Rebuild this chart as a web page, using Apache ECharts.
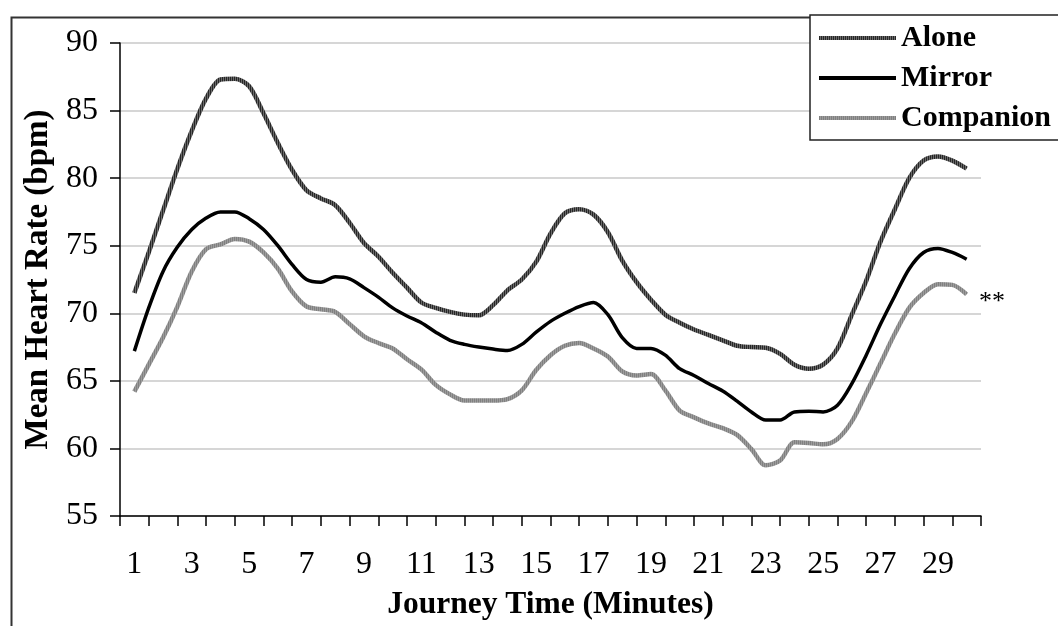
<!DOCTYPE html>
<html>
<head>
<meta charset="utf-8">
<script src="https://cdn.jsdelivr.net/npm/echarts@6/dist/echarts.min.js"></script>
<style>
  html, body { margin: 0; padding: 0; background: #fff; }
  #chart { width: 1058px; height: 626px; }
</style>
</head>
<body>
<div id="chart"></div>
<script>
// Category tick labels (minutes)
const categories = ['1','2','3','4','5','6','7','8','9','10','11','12','13','14','15',
  '16','17','18','19','20','21','22','23','24','25','26','27','28','29','30'];

// Sample times (minutes) at which the curves were read
const minutes = [1,1.5,2,2.5,3,3.5,4,4.5,5,5.5,6,6.5,7,7.5,8,8.5,9,9.5,10,10.5,
  11,11.5,12,12.5,13,13.5,14,14.5,15,15.5,16,16.5,17,17.5,18,18.5,19,19.5,20,20.5,
  21,21.5,22,22.5,23,23.5,24,24.5,25,25.5,26,26.5,27,27.5,28,28.5,29,29.5,30];

const alone = [71.5,74.5,77.6,80.7,83.5,85.9,87.3,87.35,86.8,84.8,82.6,80.6,79.1,78.5,78.0,76.7,
  75.2,74.2,73.0,71.9,70.8,70.4,70.1,69.9,69.85,70.6,71.7,72.5,73.8,75.9,77.4,77.7,77.3,76.0,
  73.9,72.3,71.0,69.9,69.3,68.8,68.4,68.0,67.6,67.5,67.45,67.0,66.2,65.9,66.2,67.4,69.9,72.4,
  75.3,77.7,80.0,81.3,81.6,81.3,80.7];

const mirror = [67.2,70.4,73.1,74.9,76.2,77.05,77.5,77.5,77.0,76.2,75.0,73.6,72.5,72.3,72.7,72.55,
  71.9,71.2,70.4,69.8,69.3,68.6,68.0,67.7,67.5,67.35,67.25,67.7,68.6,69.4,70.0,70.5,70.8,69.9,
  68.2,67.4,67.4,66.9,65.9,65.4,64.8,64.25,63.5,62.7,62.1,62.1,62.7,62.75,62.7,63.2,64.8,66.9,
  69.2,71.3,73.3,74.5,74.8,74.5,74.0];

const companion = [64.2,66.2,68.2,70.5,73.1,74.75,75.1,75.5,75.3,74.5,73.3,71.6,70.5,70.3,70.1,69.2,
  68.3,67.8,67.4,66.6,65.85,64.7,64.0,63.55,63.55,63.55,63.65,64.3,65.8,66.9,67.6,67.8,67.4,66.8,
  65.7,65.4,65.5,64.3,62.8,62.3,61.85,61.5,61.0,59.95,58.75,59.1,60.45,60.4,60.3,60.7,62.0,64.1,
  66.3,68.5,70.4,71.5,72.15,72.1,71.4];

const seriesNames = ['Alone', 'Mirror', 'Companion'];
const annotation = '**';

const FONT = "'Liberation Serif', 'Times New Roman', serif";

function pairs(vals) { return minutes.map((m, i) => [m, vals[i]]); }

// Vertical-stripe texture used by the original's hatched lines
function stripes(c1, c2) {
  const cv = document.createElement('canvas');
  cv.width = 2; cv.height = 2;
  const ctx = cv.getContext('2d');
  ctx.fillStyle = c1; ctx.fillRect(0, 0, 1, 2);
  ctx.fillStyle = c2; ctx.fillRect(1, 0, 1, 2);
  return { image: cv, repeat: 'repeat' };
}
const aloneTex = stripes('#262626', '#6a6a6a');
const compTex = stripes('#808080', '#9c9c9c');

const chart = echarts.init(document.getElementById('chart'), null, { renderer: 'canvas' });

chart.setOption({
  animation: false,
  backgroundColor: '#fff',
  grid: { left: 120, right: 77, top: 43, bottom: 106 },
  legend: {
    orient: 'vertical',
    left: 810,
    top: 15,
    padding: [8, 120, 7, 9],
    itemGap: 10,
    itemWidth: 77,
    itemHeight: 4,
    icon: 'rect',
    borderColor: '#222',
    borderWidth: 1.5,
    backgroundColor: '#fff',
    textStyle: { fontFamily: FONT, fontSize: 30, fontWeight: 'bold', color: '#000', lineHeight: 30 },
    data: [
      { name: seriesNames[0], itemStyle: { color: aloneTex } },
      { name: seriesNames[1], itemStyle: { color: '#000' } },
      { name: seriesNames[2], itemStyle: { color: compTex } }
    ]
  },
  xAxis: [
    {
      type: 'category',
      data: categories,
      boundaryGap: true,
      axisLine: { lineStyle: { color: '#000', width: 1.5 } },
      axisTick: { show: true, interval: 0, length: 10, lineStyle: { color: '#000', width: 1.5 } },
      axisLabel: { interval: 1, margin: 33, fontFamily: FONT, fontSize: 32, color: '#000' },
      splitLine: { show: false },
      name: 'Journey Time (Minutes)',
      nameLocation: 'middle',
      nameGap: 73,
      nameTextStyle: { fontFamily: FONT, fontSize: 31.5, fontWeight: 'bold', color: '#000' }
    },
    {
      type: 'value',
      min: 0.5,
      max: 30.5,
      show: false,
      gridIndex: 0
    }
  ],
  yAxis: {
    type: 'value',
    min: 55,
    max: 90,
    interval: 5,
    axisLine: { show: true, lineStyle: { color: '#000', width: 1.5 } },
    axisTick: { show: true, length: 10, lineStyle: { color: '#000', width: 1.5 } },
    axisLabel: { margin: 22, fontFamily: FONT, fontSize: 32, color: '#000' },
    splitLine: { show: true, lineStyle: { color: '#c8c8c8', width: 1.5 } },
    name: 'Mean Heart Rate (bpm)',
    nameLocation: 'middle',
    nameGap: 64,
    nameTextStyle: { fontFamily: FONT, fontSize: 33, fontWeight: 'bold', color: '#000' }
  },
  series: [
    {
      name: seriesNames[0], type: 'line', xAxisIndex: 1, data: pairs(alone),
      smooth: 0.3, symbol: 'none', showSymbol: false,
      lineStyle: { color: aloneTex, width: 4.5 }, itemStyle: { color: '#4a4a4a' }
    },
    {
      name: seriesNames[1], type: 'line', xAxisIndex: 1, data: pairs(mirror),
      smooth: 0.3, symbol: 'none', showSymbol: false,
      lineStyle: { color: '#000', width: 3.5 }, itemStyle: { color: '#000' }
    },
    {
      name: seriesNames[2], type: 'line', xAxisIndex: 1, data: pairs(companion),
      smooth: 0.3, symbol: 'none', showSymbol: false,
      lineStyle: { color: compTex, width: 4.5 }, itemStyle: { color: '#8a8a8a' }
    }
  ],
  graphic: [
    {
      type: 'rect', left: 9, top: 15, silent: true, z: -1,
      shape: { width: 1200, height: 800 },
      style: { fill: 'none', stroke: '#333', lineWidth: 2 }
    },
    {
      type: 'text', left: 979, top: 289, silent: true,
      style: { text: annotation, font: "26px 'Liberation Serif', serif", fill: '#000' }
    }
  ]
});
</script>
</body>
</html>
